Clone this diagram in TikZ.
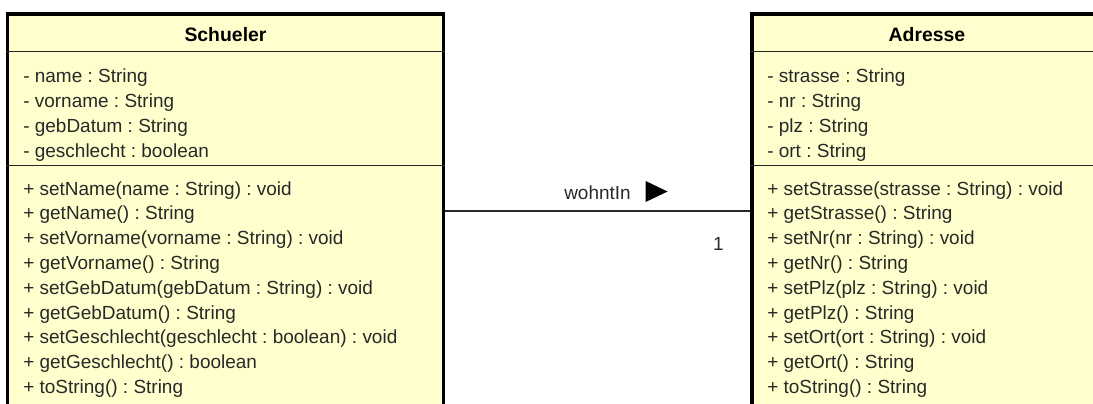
\documentclass[tikz,border=0pt]{standalone}
\usepackage{fontspec}
\setmainfont{Liberation Sans}
\frenchspacing
\definecolor{classfill}{RGB}{255,255,206}
\definecolor{inkgray}{RGB}{40,40,40}

\begin{document}
\begin{tikzpicture}[x=0.025cm, y=0.025cm,
    classbox/.style={draw=black, line width=2.2pt, fill=classfill, inner sep=0pt,
        minimum width=#1, minimum height=9.85cm},
    sepline/.style={draw=inkgray, line width=1.1pt},
    classname/.style={font=\fontsize{13.8}{16}\selectfont\bfseries, anchor=base, inner sep=0pt},
    member/.style={font=\fontsize{13.5}{16}\selectfont, text=inkgray, anchor=base west, inner sep=0pt},
    assoc/.style={draw=inkgray, line width=1.2pt},
    rolelabel/.style={font=\fontsize{13.5}{16}\selectfont, text=inkgray, anchor=base, inner sep=0pt}]

    \useasboundingbox (0,0) rectangle (1093,-403);
    \clip (0,0) rectangle (1093,-403);

    % the two classes
    \node[classbox=10.875cm] (schueler) at (225.5,-211) {};
    \node[classbox=8.75cm] (adresse) at (927,-211) {};

    % compartments: name | attributes | operations
    \draw[sepline] ([yshift=-0.975cm]schueler.north west) -- ([yshift=-0.975cm]schueler.north east);
    \draw[sepline] ([yshift=-3.825cm]schueler.north west) -- ([yshift=-3.825cm]schueler.north east);
    \draw[sepline] ([yshift=-0.975cm]adresse.north west) -- ([yshift=-0.975cm]adresse.north east);
    \draw[sepline] ([yshift=-3.825cm]adresse.north west) -- ([yshift=-3.825cm]adresse.north east);

    \node[classname] (schueler-name) at (225.5,-41) {Schueler};
    \node[classname] (adresse-name) at (927,-41) {Adresse};

    % Schueler
    \foreach \txt [count=\i] in {- name : String, - vorname : String,
        - gebDatum : String, - geschlecht : boolean}
        \node[member] (schueler-attr\i) at (23,{-82-25*(\i-1)}) {\txt};
    \foreach \txt [count=\i] in {+ setName(name : String) : void, + getName() : String,
        + setVorname(vorname : String) : void, + getVorname() : String,
        + setGebDatum(gebDatum : String) : void, + getGebDatum() : String,
        + setGeschlecht(geschlecht : boolean) : void, + getGeschlecht() : boolean,
        + toString() : String}
        \node[member] (schueler-op\i) at (23,{-195-24.8*(\i-1)}) {\txt};

    % Adresse
    \foreach \txt [count=\i] in {- strasse : String, - nr : String,
        - plz : String, - ort : String}
        \node[member] (adresse-attr\i) at (767,{-82-25*(\i-1)}) {\txt};
    \foreach \txt [count=\i] in {+ setStrasse(strasse : String) : void, + getStrasse() : String,
        + setNr(nr : String) : void, + getNr() : String,
        + setPlz(plz : String) : void, + getPlz() : String,
        + setOrt(ort : String) : void, + getOrt() : String,
        + toString() : String}
        \node[member] (adresse-op\i) at (767,{-195-24.8*(\i-1)}) {\txt};

    % association with reading direction and multiplicity
    \draw[assoc] (schueler) -- node[rolelabel, yshift=0.3cm] (wohnt) {wohntIn}
        node[rolelabel, pos=0.895, yshift=-0.975cm] (mult) {1} (adresse);
    \fill[black] ([shift={(14,-3)}]wohnt.base east) -- ++(0,21) -- ++(22,-10.5) -- cycle;
\end{tikzpicture}
\end{document}
